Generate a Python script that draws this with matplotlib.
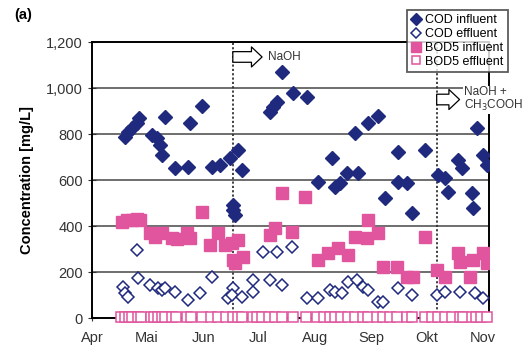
import matplotlib
matplotlib.use("Agg")
import matplotlib.pyplot as plt

plt.rcParams['font.family'] = ['Liberation Sans', 'DejaVu Sans']

# days since 1 April
month_days = [0, 30, 61, 91, 122, 153, 183, 214]
month_labels = ["Apr", "Mai", "Jun", "Jul", "Aug", "Sep", "Okt", "Nov"]

cod_in_day = [18.0, 19.7, 21.9, 24.6, 25.7, 32.8, 35.5, 37.2, 38.3, 39.9, 45.4, 52.5,
              53.6, 60.1, 65.6, 69.9, 75.4, 77.0, 77.3, 78.1, 79.8, 82.0, 97.3, 98.9,
              101.1, 103.8, 109.8, 117.5, 123.5, 131.1, 132.8, 135.5, 139.3, 143.7,
              145.4, 150.8, 156.3, 160.1, 167.2, 167.2, 172.1, 174.9, 182.0, 189.1,
              192.9, 194.5, 200.0, 202.2, 207.7, 208.2, 210.4, 213.7, 215.8]
cod_in = [787, 809, 826, 848, 870, 796, 783, 752, 709, 874, 652, 657,
          848, 922, 657, 665, 696, 491, 470, 450, 730, 643, 896, 917,
          939, 1070, 978, 961, 591, 696, 570, 587, 630, 804,
          630, 848, 878, 522, 722, 591, 587, 457, 730, 622,
          609, 548, 687, 652, 543, 478, 826, 709, 665]

cod_eff_day = [16.9, 18.0, 19.7, 24.6, 25.1, 31.7, 36.1, 38.3, 39.9, 45.4, 52.5, 59.0,
               65.6, 74.3, 77.0, 76.5, 82.0, 88.0, 88.0, 93.4, 97.3, 101.1, 103.8,
               109.3, 117.5, 123.5, 130.1, 132.8, 136.6, 139.9, 144.8, 148.1, 150.8,
               156.3, 159.0, 167.2, 174.9, 188.5, 192.9, 201.1, 209.3, 213.7]
cod_eff = [135, 109, 91, 296, 174, 143, 130, 122, 130, 113, 78, 109,
           178, 87, 130, 100, 91, 165, 113, 287, 165, 287, 143,
           309, 87, 87, 122, 113, 109, 157, 165, 135, 122,
           70, 70, 130, 100, 100, 113, 113, 109, 87]

bod_in_day = [16.4, 19.1, 21.9, 24.6, 26.2, 31.7, 34.4, 38.3, 43.7, 46.4, 51.9, 53.6,
              60.1, 64.5, 68.9, 72.7, 76.5, 77.0, 78.1, 79.8, 82.5, 97.3, 100.0,
              103.8, 109.3, 116.4, 123.5, 129.0, 134.4, 139.9, 143.7, 150.3, 150.8,
              156.3, 159.0, 166.7, 172.1, 175.4, 182.0, 188.5, 192.9, 200.0, 201.1,
              206.6, 208.2, 213.7, 215.8]
bod_in = [417, 426, 426, 430, 426, 370, 352, 370, 348, 343, 370, 348,
          461, 317, 370, 317, 326, 252, 239, 339, 265, 361, 391,
          543, 374, 526, 252, 283, 304, 274, 352, 348, 426,
          370, 222, 222, 178, 178, 352, 209, 178, 283, 243,
          178, 252, 283, 239]

bod_eff_day = [16, 18, 20, 22, 25, 27, 32, 34, 36, 38, 40, 44, 46, 52, 54, 60, 65, 69,
               73, 77, 80, 82, 88, 90, 93, 97, 100, 104, 110, 117, 123, 127, 130, 133,
               136, 140, 144, 148, 151, 156, 159, 163, 167, 172, 175, 182, 186, 189,
               193, 197, 201, 203, 208, 210, 213, 216]
bod_eff = [5, 4, 5, 6, 4, 5, 5, 4, 5, 6, 5, 4, 5, 5, 4, 5, 6, 5,
           4, 5, 5, 4, 5, 5, 4, 5, 6, 5, 4, 5, 5, 4, 5, 6,
           5, 4, 5, 5, 4, 5, 6, 5, 4, 5, 5, 4, 5, 6,
           5, 4, 5, 5, 4, 5, 6, 5]

dose_days = [77, 188.5]

navy = "#1f2a7e"
pink = "#e0559e"

fig = plt.figure(figsize=(5.29, 3.53), dpi=100)
ax = fig.add_axes([0.174, 0.099, 0.750, 0.782])

ax.set_ylim(0, 1200)
ax.set_xlim(0, 217)
ax.set_yticks(range(0, 1201, 200))
ax.set_yticklabels([f"{v:,}" for v in range(0, 1201, 200)])
ax.set_xticks(month_days)
ax.set_xticklabels(month_labels)
ax.yaxis.grid(True, color="#555555", lw=1.2)
ax.set_axisbelow(True)
for s in ax.spines.values():
    s.set_linewidth(1.4)
ax.tick_params(axis="y", direction="inout", length=6, labelsize=10.5, colors="#333333")
ax.tick_params(axis="x", direction="inout", length=4, pad=7, labelsize=10.5, colors="#333333")
ax.set_ylabel("Concentration [mg/L]", fontsize=10.5, fontweight="bold", labelpad=9)

for d in dose_days:
    ax.axvline(d, color="#333333", lw=1.3, ls=(0, (1.2, 1.2)), zorder=1)

ax.plot(bod_eff_day, bod_eff, ls="none", marker="s", ms=7.5, mfc="white", mec=pink,
        mew=1.1, label="BOD5 effluent", clip_on=False, zorder=3)
ax.plot(cod_eff_day, cod_eff, ls="none", marker="D", ms=6.5, mfc="white", mec=navy,
        mew=1.1, label="COD effluent", zorder=3)
ax.plot(bod_in_day, bod_in, ls="none", marker="s", ms=8, mfc=pink, mec=pink,
        label="BOD5 influent", zorder=3)
ax.plot(cod_in_day, cod_in, ls="none", marker="D", ms=7, mfc=navy, mec=navy,
        label="COD influent", zorder=4)

arrow = dict(arrowstyle="simple,head_length=0.45,head_width=0.85,tail_width=0.45",
             fc="white", ec="black", lw=0.9, mutation_scale=17, shrinkA=0, shrinkB=0)
ax.annotate("", xy=(93, 1135), xytext=(dose_days[0], 1135), arrowprops=arrow, zorder=5)
ax.text(96, 1135, "NaOH", fontsize=8.5, va="center", ha="left", color="#333333")
ax.annotate("", xy=(201, 950), xytext=(dose_days[1], 950), arrowprops=arrow, zorder=5)
ax.text(203.5, 950, "NaOH +\nCH$_3$COOH", fontsize=8.5, va="center", ha="left",
        color="#333333", linespacing=1.0,
        bbox=dict(fc="white", ec="none", pad=1), zorder=6, clip_on=False)

handles, labels = ax.get_legend_handles_labels()
order = [3, 1, 2, 0]
leg = fig.legend([handles[i] for i in order], [labels[i] for i in order],
                 loc="upper right", bbox_to_anchor=(0.972, 0.99), fontsize=9,
                 frameon=True, fancybox=False, edgecolor="#333333",
                 handlelength=0.8, handletextpad=0.3, borderpad=0.35,
                 labelspacing=0.15, markerscale=0.85)
leg.get_frame().set_linewidth(1.3)

fig.text(0.027, 0.945, "(a)", fontsize=10.5, fontweight="bold")

fig.savefig("out.png", dpi=100)
